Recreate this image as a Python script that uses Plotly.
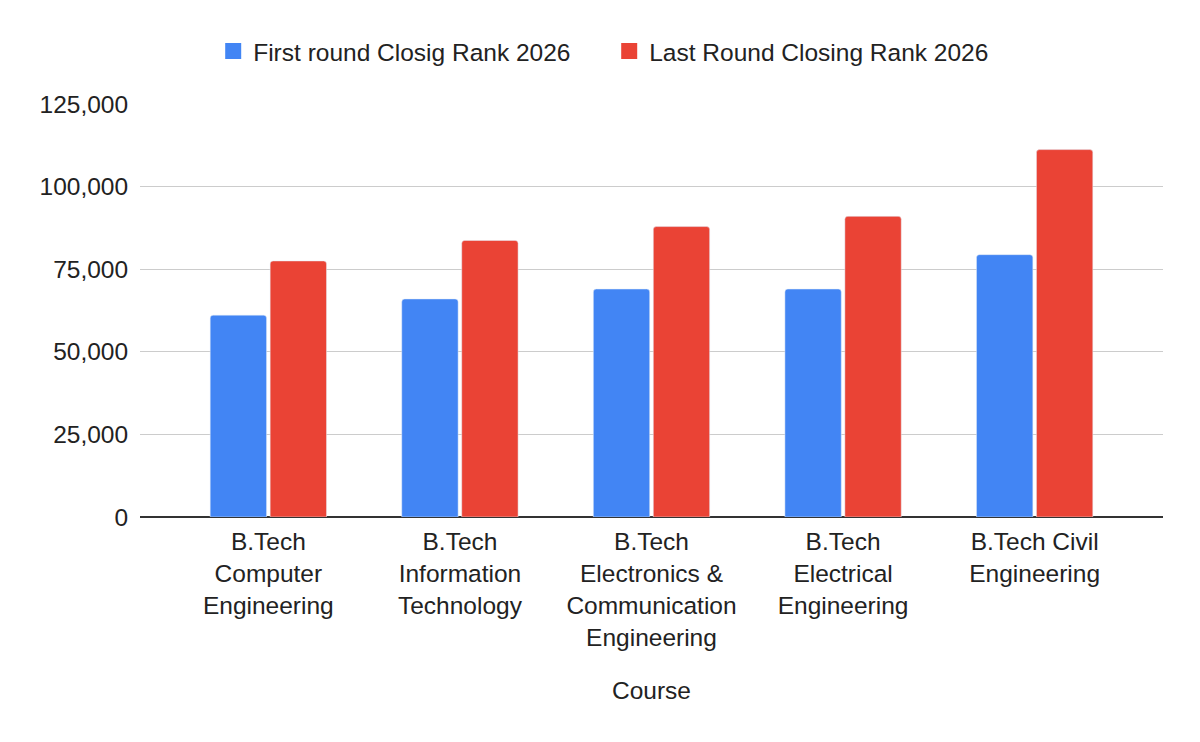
import plotly.graph_objects as go

courses = [
    "B.Tech<br>Computer<br>Engineering",
    "B.Tech<br>Information<br>Technology",
    "B.Tech<br>Electronics &<br>Communication<br>Engineering",
    "B.Tech<br>Electrical<br>Engineering",
    "B.Tech Civil<br>Engineering",
]
first_round = [61100, 66000, 69000, 69000, 79400]
last_round = [77500, 83700, 87900, 91000, 111200]
y_ticks = [0, 25000, 50000, 75000, 100000, 125000]
series_names = ["First round Closig Rank 2026", "Last Round Closing Rank 2026"]
series_colors = ["#4285F4", "#EA4335"]

font_family = "Liberation Sans, Arial, sans-serif"

fig = go.Figure()
for name, vals, color in zip(series_names, [first_round, last_round], series_colors):
    fig.add_trace(go.Bar(x=courses, y=vals, name=name, marker_color=color,
                         showlegend=False))
    # square swatch for the legend, like the sheets chart
    fig.add_trace(go.Scatter(x=[None], y=[None], mode="markers", name=name,
                             marker=dict(symbol="square", size=22, color=color)))

# page body adds 8px margin, so plot-area margins are shifted to compensate
fig.update_layout(
    width=1200, height=742,
    paper_bgcolor="white", plot_bgcolor="white",
    font=dict(family=font_family, size=24.5, color="#222222"),
    margin=dict(l=132, r=45, t=96, b=233, autoexpand=False),
    barmode="group",
    bargap=0.374,
    bargroupgap=0.06,
    barcornerradius=3,
    legend=dict(orientation="h", xref="container", x=0.501, xanchor="center",
                yref="container", y=0.942, yanchor="middle",
                entrywidth=351, entrywidthmode="pixels",
                font=dict(size=24.5, color="#222222")),
    xaxis=dict(
        range=[-0.67, 4.67],
        showgrid=False,
        ticks="outside", ticklen=3, tickcolor="white",
        automargin=False,
        title=dict(text="Course", standoff=31, font=dict(size=24.5, color="#222222")),
    ),
    yaxis=dict(
        range=[0, 125000],
        tickvals=y_ticks,
        tickformat=",",
        automargin=False,
        showgrid=True, gridcolor="#cccccc", gridwidth=1,
        zeroline=True, zerolinecolor="#333333", zerolinewidth=1.5,
        ticks="outside", ticklen=6, tickcolor="white",
    ),
)

fig.write_html("out.html")
